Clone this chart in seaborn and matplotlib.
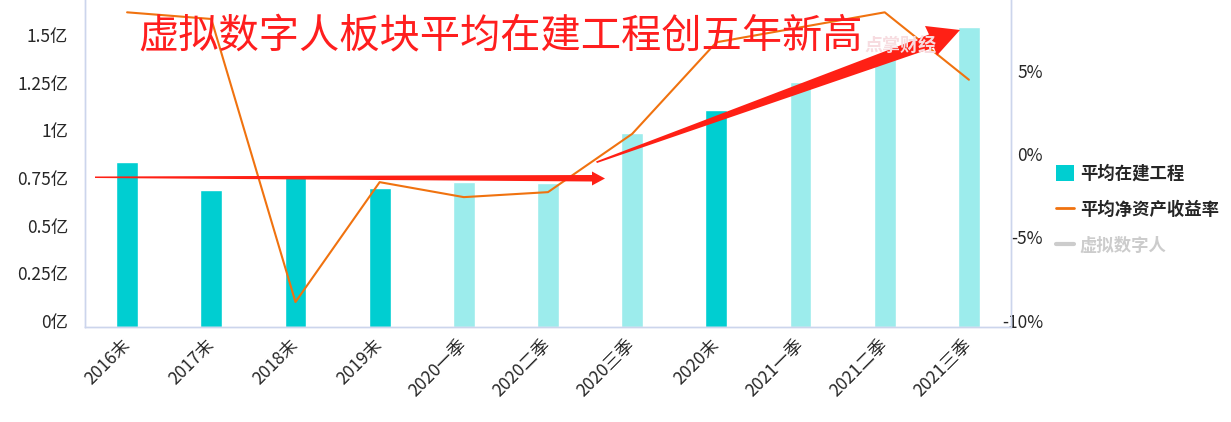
import matplotlib
matplotlib.use('Agg')
import matplotlib.pyplot as plt
import matplotlib.transforms as mtransforms
from matplotlib.patches import Patch, Polygon
from matplotlib.lines import Line2D
import numpy as np
import seaborn as sns

sns.set_style('white')
plt.rcParams['font.family'] = ['Noto Sans CJK SC', 'DejaVu Sans']
plt.rcParams['axes.unicode_minus'] = False

# data
periods = ['2016末', '2017末', '2018末', '2019末', '2020一季', '2020二季', '2020三季',
           '2020末', '2021一季', '2021二季', '2021三季']
avg_construction = [0.867, 0.72, 0.79, 0.73, 0.76, 0.755, 1.02, 1.14, 1.29, 1.43, 1.576]  # 亿
avg_roe = [8.9, 8.5, -8.5, -1.3, -2.2, -1.9, 1.6, 7.1, 8.0, 8.9, 4.85]  # %
is_year_end = [True, True, True, True, False, False, False, True, False, False, False]

left_ticks = [0, 0.25, 0.5, 0.75, 1, 1.25, 1.5]
left_labels = ['0亿', '0.25亿', '0.5亿', '0.75亿', '1亿', '1.25亿', '1.5亿']
right_ticks = [-10, -5, 0, 5]
right_labels = ['-10%', '-5%', '0%', '5%']

dark_teal = '#00CED1'
light_teal = '#9CECEC'
orange = '#F0720F'
arrow_red = '#FF2015'
spine_col = '#CCD5EC'

W, H = 1231, 422
fig = plt.figure(figsize=(W / 100, H / 100), dpi=100)
ax = fig.add_axes([85 / W, (H - 327) / H, (1011 - 85) / W, 333 / H])

bar_colors = [dark_teal if y else light_teal for y in is_year_end]
sns.barplot(x=periods, y=avg_construction, hue=periods, palette=bar_colors,
            legend=False, width=0.26, saturation=1, ax=ax)
ax.set_xlim(-0.5, len(periods) - 0.5)
ax.set_ylim(0, 1.75)
ax.set_yticks(left_ticks)
ax.set_yticklabels(left_labels, fontsize=12.5)
ax.tick_params(axis='y', length=0, pad=12)
ax.tick_params(axis='x', length=0, pad=11)
ax.set_xticks(range(len(periods)))
ax.set_xticklabels(periods, fontsize=12.5, rotation=45, ha='right', va='center',
                   rotation_mode='anchor')
ax.set_xlabel('')
ax.set_ylabel('')

ax2 = ax.twinx()
sns.lineplot(x=np.arange(len(periods)), y=avg_roe, color=orange, linewidth=1.5,
             sort=False, ax=ax2)
ax2.set_ylim(-10, 10)
ax2.set_yticks(right_ticks)
ax2.set_yticklabels(right_labels, fontsize=12.5, ha='right')
ax2.tick_params(axis='y', length=0, pad=23)

# labels sit a bit above their ticks in the original
up = mtransforms.ScaledTranslation(0, 4.5 / 72, fig.dpi_scale_trans)
for lab in ax.get_yticklabels() + ax2.get_yticklabels():
    lab.set_transform(lab.get_transform() + up)

for a in (ax, ax2):
    a.spines['top'].set_visible(False)
    for s in ('left', 'right', 'bottom'):
        a.spines[s].set_color(spine_col)
        a.spines[s].set_linewidth(1)
ax.grid(False)
ax2.grid(False)

# legend
handles = [Patch(facecolor=dark_teal, edgecolor='none'),
           Line2D([], [], color=orange, linewidth=2),
           Line2D([], [], color='#CCCCCC', linewidth=3)]
labels = ['平均在建工程', '平均净资产收益率', '虚拟数字人']
leg = fig.legend(handles, labels, loc='center left', bbox_to_anchor=(1040 / W, 1 - 210 / H),
                 frameon=False, handlelength=1.05, handleheight=1.05, handletextpad=0.35,
                 labelspacing=1.05, prop={'size': 12.5, 'weight': 'bold'})
leg.get_texts()[2].set_color('#CCCCCC')


def px(points):
    return [(x / W, 1 - y / H) for x, y in points]


# overlay: watermark, title, arrows
fig.text(864 / W, 1 - 46 / H, '点掌财经', fontsize=13, color='#F7DCE0', va='center',
         fontweight='bold')
fig.text(138 / W, 1 - 36 / H, '虚拟数字人板块平均在建工程创五年新高', fontsize=29,
         color='#FF1E1E', va='center')

h_arrow = [(95, 176.5), (592, 175), (592, 171.5), (605, 178.5), (592, 185.5), (592, 181.5),
           (95, 178)]
fig.add_artist(Polygon(px(h_arrow), closed=True, transform=fig.transFigure,
                       facecolor=arrow_red, edgecolor='none'))
d_arrow = [(596, 161.5), (929, 34.5), (925, 26), (960, 30), (937, 55.5), (934, 47.5),
           (597, 163)]
fig.add_artist(Polygon(px(d_arrow), closed=True, transform=fig.transFigure,
                       facecolor=arrow_red, edgecolor='none'))

fig.savefig('out.png', dpi=100)
